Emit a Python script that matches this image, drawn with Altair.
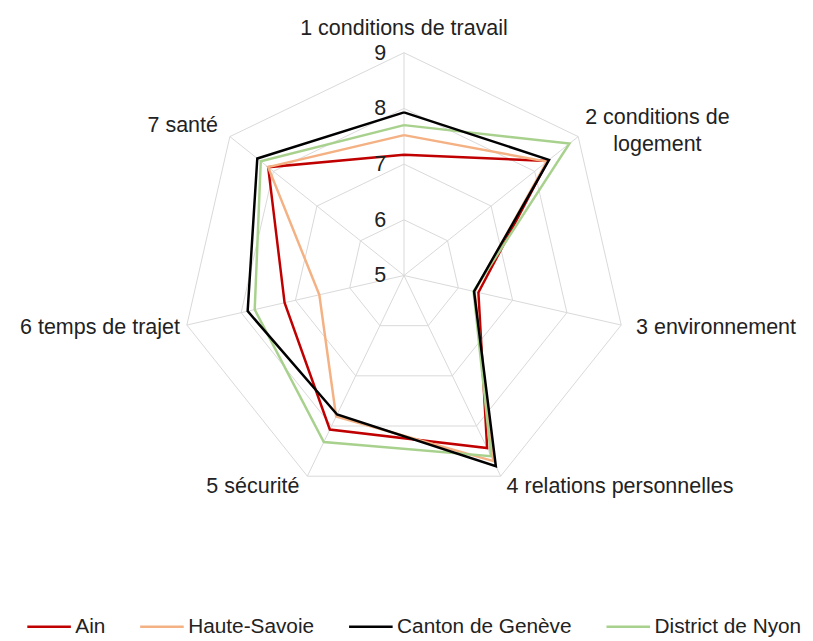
import altair as alt
import pandas as pd

# ---- data ----
axis_labels = ["1 conditions de travail", "2 conditions de\nlogement", "3 environnement",
               "4 relations personnelles", "5 sécurité", "6 temps de trajet", "7 santé"]
series_names = ["Ain", "Haute-Savoie", "Canton de Genève", "District de Nyon"]
ain = [7.17, 8.30, 6.37, 8.44, 8.07, 7.20, 8.12]
haute_savoie = [7.52, 8.28, 6.30, 8.70, 7.81, 6.56, 8.12]
geneve = [7.93, 8.33, 6.29, 8.80, 7.77, 7.88, 8.37]
nyon = [7.70, 8.80, 6.28, 8.60, 8.32, 7.75, 8.29]
series_colors = ["#c00000", "#f4b183", "#000000", "#a9d18e"]
series_widths = [2.5, 2.5, 3.0, 2.5]
ticks = [5, 6, 7, 8, 9]
r_min, r_max = 5, 9
n_axes = len(axis_labels)

# label placement (align, dx, dy) relative to the outer ring vertex
label_style = [("center", 0, -25), ("center", 80, -20), ("left", 15, 2),
               ("left", 6, 10), ("right", -8, 10), ("right", -7, 2), ("right", -12, -12)]

FONT = "Liberation Sans"
FS = 21.7
TXT = "#222222"

# ---- tables ----
series_values = {"Ain": ain, "Haute-Savoie": haute_savoie,
                 "Canton de Genève": geneve, "District de Nyon": nyon}
draw_order = ["Ain", "Haute-Savoie", "District de Nyon", "Canton de Genève"]
rows = []
for s in draw_order:
    vals = series_values[s]
    for i in range(n_axes + 1):
        rows.append({"series": s, "idx": i, "value": vals[i % n_axes]})
df_series = pd.DataFrame(rows)

df_rings = pd.DataFrame([{"ring": r, "idx": i, "value": r}
                         for r in ticks[1:] for i in range(n_axes + 1)])
df_spokes = pd.DataFrame({"idx": list(range(n_axes))})
df_ticks = pd.DataFrame({"value": ticks, "label": [str(t) for t in ticks]})

# ---- geometry via scales ----
PX = 56.25  # pixels per unit
W, H = 805, 633
cx, cy = 400, 267
xdom = [-cx / PX, (W - cx) / PX]
ydom = [(cy - H) / PX, cy / PX]
xs = alt.Scale(domain=xdom, nice=False, zero=False)
ys = alt.Scale(domain=ydom, nice=False, zero=False)
X = lambda f: alt.X(f, type="quantitative", scale=xs, axis=None)
Y = lambda f: alt.Y(f, type="quantitative", scale=ys, axis=None)

def polar(ch):
    return ch.transform_calculate(
        theta=f"datum.idx * 2 * PI / {n_axes}"
    ).transform_calculate(
        px=f"(datum.value - {r_min}) * sin(datum.theta)",
        py=f"(datum.value - {r_min}) * cos(datum.theta)",
    )

rings = polar(alt.Chart(df_rings).mark_line(color="#d9d9d9", strokeWidth=1)).encode(
    x=X("px"), y=Y("py"), detail="ring:N", order="idx:Q")

spokes = alt.Chart(df_spokes).mark_rule(color="#d9d9d9", strokeWidth=1).transform_calculate(
    theta=f"datum.idx * 2 * PI / {n_axes}"
).transform_calculate(
    px="0", py="0",
    px2=f"{r_max - r_min} * sin(datum.theta)",
    py2=f"{r_max - r_min} * cos(datum.theta)",
).encode(x=X("px"), y=Y("py"), x2="px2:Q", y2="py2:Q")

lines = polar(alt.Chart(df_series).mark_line(strokeJoin="miter")).encode(
    x=X("px"), y=Y("py"),
    color=alt.Color("series:N", scale=alt.Scale(domain=series_names, range=series_colors),
                    legend=alt.Legend(title=None, orient="none", legendX=18, legendY=598,
                                      direction="horizontal", symbolType="stroke",
                                      symbolSize=1936, symbolStrokeWidth=3,
                                      labelFont=FONT, labelFontSize=21, labelColor=TXT,
                                      labelOffset=3, labelLimit=400, columnPadding=29,
                                      padding=0)),
    strokeWidth=alt.StrokeWidth("series:N", scale=alt.Scale(domain=series_names, range=series_widths),
                                legend=None),
    order="idx:Q",
)

tick_text = alt.Chart(df_ticks).mark_text(
    font=FONT, fontSize=FS, color=TXT, align="center", baseline="middle", dx=-24
).transform_calculate(px="0", py=f"datum.value - {r_min}").encode(
    x=X("px"), y=Y("py"), text="label:N")

label_layers = []
for i, (lab, (al, dx, dy)) in enumerate(zip(axis_labels, label_style)):
    d = pd.DataFrame({"idx": [i], "value": [r_max], "label": [lab]})
    label_layers.append(
        polar(alt.Chart(d).mark_text(font=FONT, fontSize=FS, color=TXT, align=al,
                                     baseline="middle", dx=dx, dy=dy,
                                     lineBreak="\n", lineHeight=28)).encode(
            x=X("px"), y=Y("py"), text="label:N"))

chart = alt.layer(rings, spokes, lines, tick_text, *label_layers).properties(
    width=W, height=H, autosize=alt.AutoSizeParams(type="none"), padding=0,
    background="white"
).configure_view(stroke=None)

chart.save("out.html", embed_options={"renderer": "svg", "actions": False})
